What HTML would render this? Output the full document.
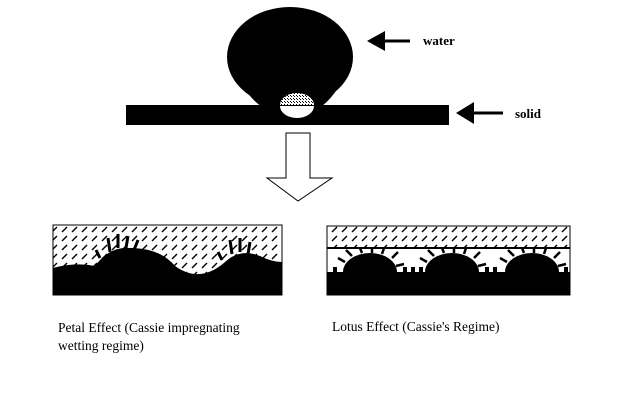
<!DOCTYPE html>
<html><head><style>
html,body{margin:0;padding:0;background:#fff;}
svg{display:block;}
text{font-family:"Liberation Serif",serif;}
</style></head><body>
<svg width="640" height="400" viewBox="0 0 640 400" xmlns="http://www.w3.org/2000/svg">
<defs>
<pattern id="h" width="10" height="9" patternUnits="userSpaceOnUse">
<line x1="2" y1="7" x2="7" y2="2" stroke="#000" stroke-width="1.4"/>
</pattern>
<pattern id="st" width="3" height="3" patternUnits="userSpaceOnUse">
<rect width="3" height="3" fill="#fff"/><rect x="0" y="0" width="1" height="1" fill="#000"/><rect x="2" y="2" width="1" height="1" fill="#000"/>
</pattern>
</defs>
<rect width="640" height="400" fill="#fff"/>
<!-- droplet -->
<ellipse cx="290" cy="57" rx="63" ry="50" fill="#000"/>
<path d="M245 90 Q258 106 262 106 L322 106 Q330 100 338 88 Z" fill="#000"/>
<rect x="126" y="105" width="323" height="20" fill="#000"/>
<path d="M280 105 A17 12 0 0 1 314 105 Z" fill="url(#st)"/>
<path d="M280 106 A17 12 0 0 0 314 106 Z" fill="#fff"/>
<!-- down arrow -->
<path d="M286 133 H310 V178 H332 L298 201 L267 178 H286 Z" fill="#fff" stroke="#000" stroke-width="1"/>
<!-- water arrow -->
<path d="M367 41 L385 31 V51 Z" fill="#000"/>
<rect x="383" y="39.5" width="27" height="3" fill="#000"/>
<text x="423" y="45" font-size="13" font-weight="bold">water</text>
<path d="M456 113 L474 102 V124 Z" fill="#000"/>
<rect x="472" y="111.5" width="31" height="3" fill="#000"/>
<text x="515" y="118" font-size="13" font-weight="bold">solid</text>
<!-- left panel -->
<rect x="53" y="225" width="229" height="70" fill="url(#h)" stroke="#000" stroke-width="1"/>
<path d="M53 268 Q75 262 95 266 Q110 246 130 248 Q160 248 175 266 Q200 284 225 262 Q240 248 260 256 Q272 262 282 262 V295 H53 Z" fill="#000"/>
<g stroke="#000" stroke-width="3">
<line x1="110" y1="252" x2="108" y2="238"/><line x1="118" y1="248" x2="118" y2="234"/><line x1="126" y1="248" x2="128" y2="236"/><line x1="134" y1="250" x2="138" y2="240"/><line x1="100" y1="258" x2="96" y2="250"/>
<line x1="232" y1="254" x2="230" y2="240"/><line x1="240" y1="252" x2="240" y2="238"/><line x1="248" y1="254" x2="250" y2="242"/><line x1="222" y1="260" x2="218" y2="252"/>
</g>
<!-- right panel -->
<rect x="327" y="226" width="243" height="22" fill="url(#h)" stroke="#000" stroke-width="1"/>
<rect x="327" y="248" width="243" height="47" fill="#fff" stroke="#000" stroke-width="1"/>
<line x1="327" y1="248" x2="570" y2="248" stroke="#000" stroke-width="2"/>
<rect x="327" y="272" width="243" height="23" fill="#000"/>
<g fill="#000">
<ellipse cx="370" cy="272" rx="27" ry="19"/>
<ellipse cx="452" cy="272" rx="27" ry="19"/>
<ellipse cx="532" cy="272" rx="27" ry="19"/>
</g>
<g stroke="#000" stroke-width="2.5">
<line x1="345" y1="262" x2="338" y2="258"/><line x1="352" y1="256" x2="346" y2="250"/><line x1="362" y1="253" x2="360" y2="248"/><line x1="372" y1="253" x2="372" y2="248"/><line x1="382" y1="254" x2="384" y2="248"/><line x1="392" y1="258" x2="398" y2="252"/><line x1="396" y1="266" x2="404" y2="264"/>
<line x1="427" y1="262" x2="420" y2="258"/><line x1="434" y1="256" x2="428" y2="250"/><line x1="444" y1="253" x2="442" y2="248"/><line x1="454" y1="253" x2="454" y2="248"/><line x1="464" y1="254" x2="466" y2="248"/><line x1="474" y1="258" x2="480" y2="252"/><line x1="478" y1="266" x2="486" y2="264"/>
<line x1="507" y1="262" x2="500" y2="258"/><line x1="514" y1="256" x2="508" y2="250"/><line x1="524" y1="253" x2="522" y2="248"/><line x1="534" y1="253" x2="534" y2="248"/><line x1="544" y1="254" x2="546" y2="248"/><line x1="554" y1="258" x2="560" y2="252"/><line x1="558" y1="266" x2="566" y2="264"/>
</g>
<g fill="#000">
<rect x="333" y="267" width="4" height="5"/><rect x="403" y="267" width="4" height="5"/><rect x="411" y="267" width="4" height="5"/><rect x="419" y="267" width="4" height="5"/><rect x="485" y="267" width="4" height="5"/><rect x="493" y="267" width="4" height="5"/><rect x="564" y="267" width="4" height="5"/>
</g>
<text x="58" y="332" font-size="13.5">Petal Effect (Cassie impregnating</text>
<text x="58" y="350" font-size="13.5">wetting regime)</text>
<text x="332" y="331" font-size="13.5">Lotus Effect (Cassie's Regime)</text>
</svg>
</body></html>
